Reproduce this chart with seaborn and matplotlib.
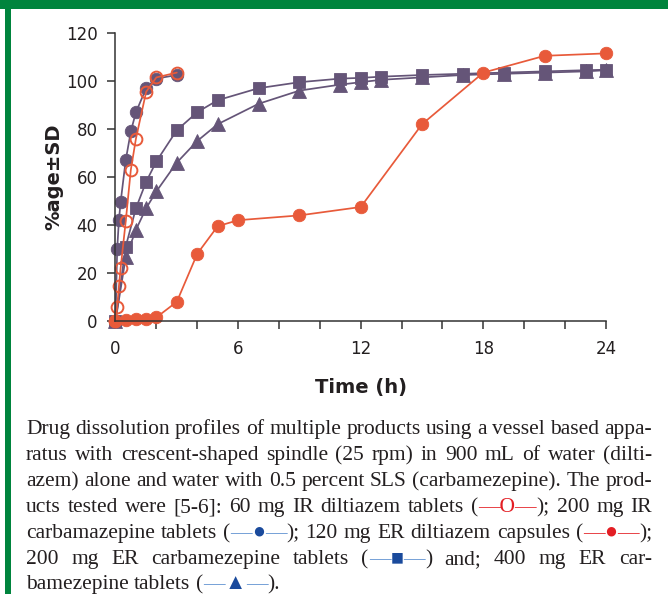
import matplotlib
matplotlib.use("Agg")
import matplotlib.pyplot as plt
import seaborn as sns
from matplotlib.patches import Rectangle
from matplotlib.ticker import MultipleLocator

# ---------------- data ----------------
t_ir_dil = [0, 0.083, 0.167, 0.25, 0.5, 0.75, 1, 1.5, 2, 3]
v_ir_dil = [0, 6, 14.5, 22, 41.5, 63, 76, 95.5, 101.5, 103.5]

t_ir_cbz = [0, 0.083, 0.167, 0.25, 0.5, 0.75, 1, 1.5, 2, 3]
v_ir_cbz = [0, 30, 42, 49.5, 67, 79, 87, 97, 101, 102.5]

t_er_dil = [0, 0.5, 1, 1.5, 2, 3, 4, 5, 6, 9, 12, 15, 18, 21, 24]
v_er_dil = [0, 0.5, 0.8, 1, 1.5, 8, 28, 39.5, 42, 44, 47.5, 82, 103.5, 110.5, 111.5]

t_er200 = [0, 0.5, 1, 1.5, 2, 3, 4, 5, 7, 9, 11, 12, 13, 15, 17, 19, 21, 23, 24]
v_er200 = [0, 31, 47, 58, 66.5, 79.5, 87, 92, 97, 99.5, 101, 101.3, 101.8, 102.5,
           103, 103.5, 104, 104.5, 104.7]

t_er400 = [0, 0.5, 1, 1.5, 2, 3, 4, 5, 7, 9, 11, 12, 13, 15, 17, 19, 21, 23, 24]
v_er400 = [0, 26.5, 38, 47, 54, 66, 75, 82, 90.5, 96, 98.5, 99.5, 100.5, 101.5,
           102.5, 103, 103.5, 104, 104.5]

x_ticks = [0, 6, 12, 18, 24]
y_ticks = [0, 20, 40, 60, 80, 100, 120]

caption_lines = [
    "Drug dissolution profiles of multiple products using a vessel based appa-",
    "ratus with crescent-shaped spindle (25 rpm) in 900 mL of water (dilti-",
    "azem) alone and water with 0.5 percent SLS (carbamezepine). The prod-",
    "ucts tested were [5-6]: 60 mg IR diltiazem tablets {R}; 200 mg IR",
    "carbamazepine tablets {B}; 120 mg ER diltiazem capsules {RD};",
    "200 mg ER carbamezepine tablets {BS} and; 400 mg ER car-",
    "bamezepine tablets {BT}.",
]

# ---------------- style ----------------
PURPLE = "#655578"
ORANGE = "#E85A3A"
GREEN = "#00843D"
TXT = "#231F20"

sns.set_style("ticks")
plt.rcParams["font.family"] = ["DejaVu Sans"]

W, H = 668, 594
fig = plt.figure(figsize=(W / 100, H / 100), dpi=100)
ax = fig.add_axes([115.5 / W, (H - 321) / H, 490.5 / W, 288 / H])

common = dict(ax=ax, estimator=None, sort=False, legend=False, linewidth=1.25,
              clip_on=False)

sns.lineplot(x=t_er400, y=v_er400, color=PURPLE, marker="^", markersize=9.5,
             markeredgecolor=PURPLE, markeredgewidth=0.6, **common)
sns.lineplot(x=t_er200, y=v_er200, color=PURPLE, marker="s", markersize=8.5,
             markeredgecolor=PURPLE, markeredgewidth=0.6, **common)
sns.lineplot(x=t_ir_cbz, y=v_ir_cbz, color=PURPLE, marker="o", markersize=9,
             markeredgecolor=PURPLE, markeredgewidth=0.6, **common)
sns.lineplot(x=t_ir_dil, y=v_ir_dil, color=ORANGE, marker="o", markersize=8.5,
             markeredgecolor=ORANGE, markerfacecolor="none", markeredgewidth=1.4,
             **common)
sns.lineplot(x=t_er_dil, y=v_er_dil, color=ORANGE, marker="o", markersize=9,
             markeredgecolor=ORANGE, markeredgewidth=0.6, **common)

ax.set_xlim(0, 24)
ax.set_ylim(0, 120)
ax.set_xticks(x_ticks)
ax.set_xticklabels([str(v) for v in x_ticks])
ax.xaxis.set_minor_locator(MultipleLocator(2))
ax.set_yticks(y_ticks)
ax.set_yticklabels([str(v) for v in y_ticks])

for s in ["top", "right"]:
    ax.spines[s].set_visible(False)
for s in ["left", "bottom"]:
    ax.spines[s].set_color("#333333")
    ax.spines[s].set_linewidth(1.1)

ax.tick_params(axis="both", which="both", direction="out", length=6, width=1.1,
               color="#333333", labelsize=12, labelcolor=TXT)
ax.tick_params(axis="x", which="both", pad=8)
ax.tick_params(axis="y", which="both", pad=7)

ax.set_xlabel("Time (h)", fontsize=14, fontweight="bold", color=TXT)
ax.set_ylabel("%age±SD", fontsize=14, fontweight="bold", color=TXT)
ax.xaxis.set_label_coords(0.5, (321 - 378) / 288)
ax.yaxis.set_label_coords((63 - 115.5) / 490.5, 0.5)

# ---------------- frame ----------------
fig.patches.append(Rectangle((0, 1 - 9 / H), 1, 9 / H, transform=fig.transFigure,
                             facecolor=GREEN, edgecolor="none", zorder=10))
fig.patches.append(Rectangle((5 / W, 0), 6 / W, 1, transform=fig.transFigure,
                             facecolor=GREEN, edgecolor="none", zorder=10))

# ---------------- caption (justified) ----------------
RED = "#E31E24"
LBLUE = "#5B8FD0"
NAVY = "#1A4A9C"
symbols = {
    "{R}": [("(", TXT), ("—O—", RED)],
    "{B}": [("(", TXT), ("—", LBLUE), ("●", NAVY), ("—", LBLUE)],
    "{RD}": [("(", TXT), ("—", RED), ("●", RED), ("—", RED)],
    "{BS}": [("(", TXT), ("—", LBLUE), ("■", NAVY), ("—", LBLUE)],
    "{BT}": [("(", TXT), ("—", LBLUE), ("▲", NAVY), ("—", LBLUE)],
}
CAP_FS = 15.5
fam = ["Liberation Serif", "DejaVu Serif"]
renderer = fig.canvas.get_renderer()


def word_segments(word):
    for key, segs in symbols.items():
        if key in word:
            pre, post = word.split(key)
            out = []
            if pre:
                out.append((pre, TXT))
            out += segs
            out.append((")" + post, TXT))
            return out
    return [(word, TXT)]


x_left, x_right = 26, 652
baselines = [434, 460, 486, 512, 538, 564, 589]
for li, line in enumerate(caption_lines):
    words = line.split(" ")
    items = []
    for w in words:
        segs = []
        for txt, col in word_segments(w):
            t = fig.text(0, 0, txt, fontsize=CAP_FS, color=col, family=fam,
                         va="baseline", ha="left")
            wd = t.get_window_extent(renderer).width
            segs.append((t, wd))
        items.append(segs)
    widths = [sum(wd for _, wd in segs) for segs in items]
    last = li == len(caption_lines) - 1
    space_nat = 0.25 * CAP_FS * 100 / 72
    if last or len(items) < 2:
        gap = space_nat
    else:
        gap = (x_right - x_left - sum(widths)) / (len(items) - 1)
    x = x_left
    yb = 1 - baselines[li] / H
    for segs, wtot in zip(items, widths):
        xx = x
        for t, wd in segs:
            t.set_position((xx / W, yb))
            xx += wd
        x += wtot + gap

fig.savefig("out.png", dpi=100, facecolor="white")
